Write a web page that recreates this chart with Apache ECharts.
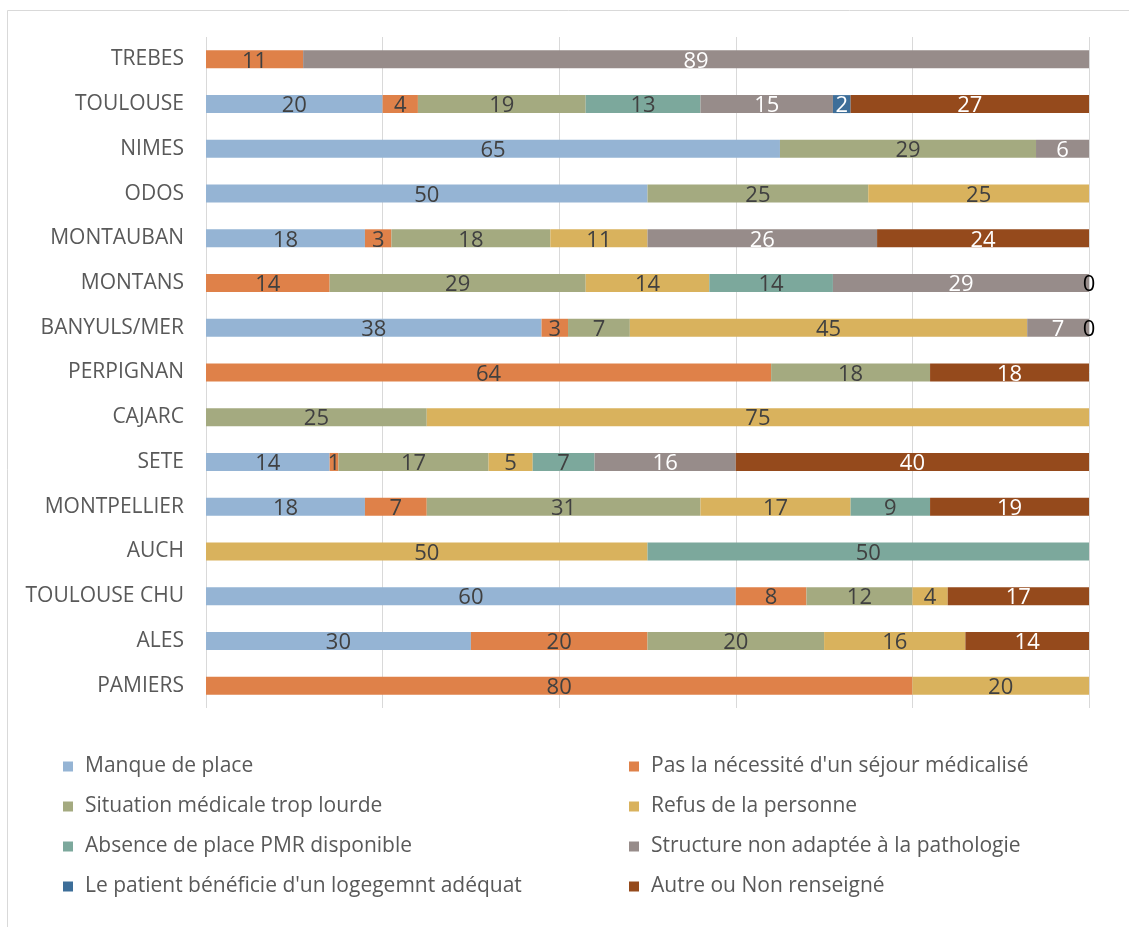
<!DOCTYPE html>
<html>
<head>
<meta charset="utf-8">
<script src="https://cdn.jsdelivr.net/npm/echarts@6/dist/echarts.min.js"></script>
<style>
  html, body { margin: 0; padding: 0; background: #fff; }
  #chart { width: 1129px; height: 927px; }
</style>
</head>
<body>
<div id="chart"></div>
<script>
// Sites, listed top to bottom
const categories = ['TREBES', 'TOULOUSE', 'NIMES', 'ODOS', 'MONTAUBAN', 'MONTANS', 'BANYULS/MER',
  'PERPIGNAN', 'CAJARC', 'SETE', 'MONTPELLIER', 'AUCH', 'TOULOUSE CHU', 'ALES', 'PAMIERS'];

// Share of each reason (%), one entry per site; null = reason not cited
const manqueDePlace     = [null, 20, 65, 50, 18, null, 38, null, null, 14, 18, null, 60, 30, null];
const pasNecessite      = [11, 4, null, null, 3, 14, 3, 64, null, 1, 7, null, 8, 20, 80];
const situationLourde   = [null, 19, 29, 25, 18, 29, 7, 18, 25, 17, 31, null, 12, 20, null];
const refusPersonne     = [null, null, null, 25, 11, 14, 45, null, 75, 5, 17, 50, 4, 16, 20];
const absencePMR        = [null, 13, null, null, null, 14, null, null, null, 7, 9, 50, null, null, null];
const structureNonAdapt = [89, 15, 6, null, 26, 29, 7, null, null, 16, null, null, null, null, null];
const logementAdequat   = [null, 2, null, null, null, null, null, null, null, null, null, null, null, null, null];
const autreNonRenseigne = [null, 27, null, null, 24, 0, 0, 18, null, 40, 19, null, 17, 14, null];

const seriesDefs = [
  { name: 'Manque de place', data: manqueDePlace, color: '#95B4D4', text: '#404040' },
  { name: "Pas la nécessité d'un séjour médicalisé", data: pasNecessite, color: '#DF8149', text: '#404040' },
  { name: 'Situation médicale trop lourde', data: situationLourde, color: '#A4AA80', text: '#404040' },
  { name: 'Refus de la personne', data: refusPersonne, color: '#D9B25D', text: '#404040' },
  { name: 'Absence de place PMR disponible', data: absencePMR, color: '#7CA89C', text: '#404040' },
  { name: 'Structure non adaptée à la pathologie', data: structureNonAdapt, color: '#978C8A', text: '#FFFFFF' },
  { name: "Le patient bénéficie d'un logegemnt adéquat", data: logementAdequat, color: '#3D6E99', text: '#FFFFFF' },
  { name: 'Autre ou Non renseigné', data: autreNonRenseigne, color: '#954A1C', text: '#FFFFFF' }
];

const FONT = '"Open Sans", "Noto Sans", sans-serif';

const series = seriesDefs.map(s => ({
  name: s.name,
  type: 'bar',
  stack: 'total',
  barWidth: 18,
  itemStyle: { color: s.color },
  label: {
    show: true,
    position: 'inside',
    offset: [0, 2],
    fontFamily: FONT,
    fontSize: 22,
    color: s.text,
    formatter: p => (p.value === null || p.value === undefined) ? '' : String(p.value)
  },
  data: s.data.map(v => v === 0
    ? { value: 0, label: { color: '#000000' } }
    : v)
}));

const leftNames = [0, 2, 4, 6].map(i => seriesDefs[i].name);
const rightNames = [1, 3, 5, 7].map(i => seriesDefs[i].name);

const legendBase = {
  orient: 'vertical',
  top: 750,
  icon: 'rect',
  itemWidth: 10,
  itemHeight: 10,
  itemGap: 17,
  textStyle: { fontFamily: FONT, fontSize: 21, color: '#595959', lineHeight: 23, padding: [0, 0, 0, 7] }
};

const chart = echarts.init(document.getElementById('chart'), null, { renderer: 'canvas' });
chart.setOption({
  backgroundColor: '#ffffff',
  animation: false,
  graphic: [{
    type: 'rect',
    left: 5, top: 8,
    shape: { width: 1140, height: 940 },
    style: { fill: 'none', stroke: '#D9D9D9', lineWidth: 1 },
    silent: true,
    z: -1
  }],
  legend: [
    Object.assign({ left: 58, data: leftNames }, legendBase),
    Object.assign({ left: 624, data: rightNames }, legendBase)
  ],
  grid: { left: 206, right: 40, top: 37, height: 671, containLabel: false },
  xAxis: {
    type: 'value',
    min: 0, max: 100, interval: 20,
    axisLabel: { show: false },
    axisLine: { show: false },
    axisTick: { show: false },
    splitLine: { show: true, lineStyle: { color: '#D9D9D9', width: 1 } }
  },
  yAxis: {
    type: 'category',
    inverse: true,
    data: categories,
    axisLine: { show: false },
    axisTick: { show: false },
    axisLabel: { margin: 22, fontFamily: FONT, fontSize: 21, color: '#595959' }
  },
  series: series
});
</script>
</body>
</html>
